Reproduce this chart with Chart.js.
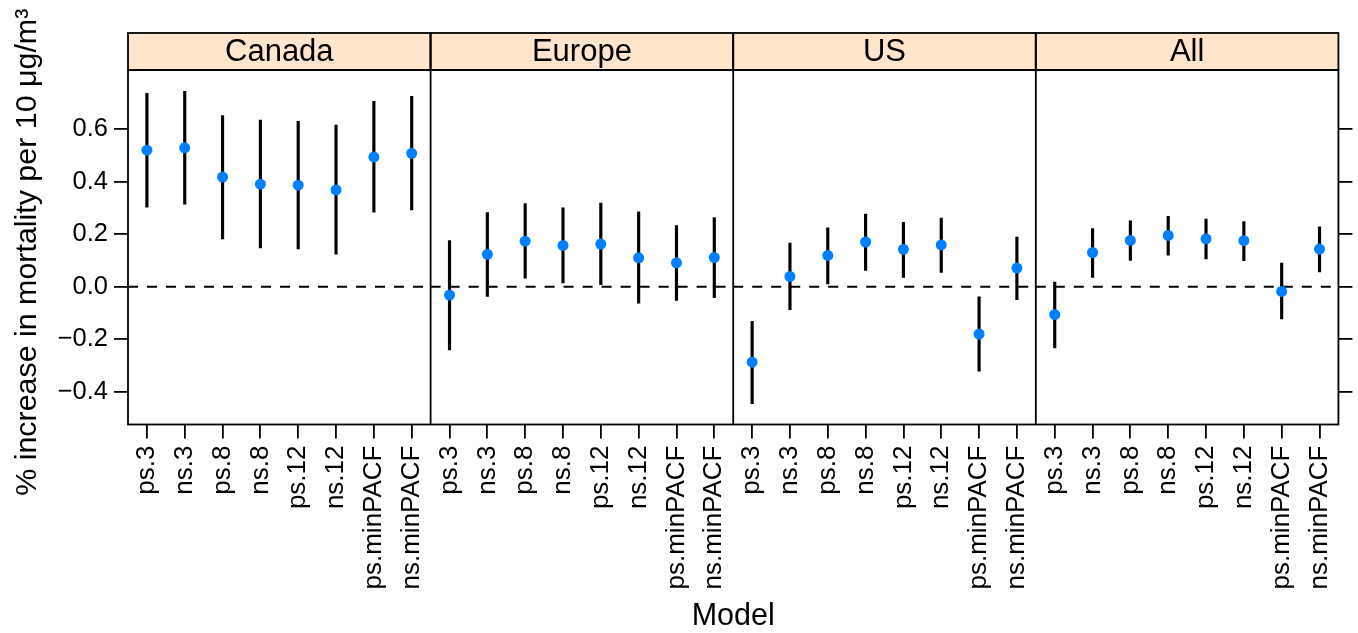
<!DOCTYPE html>
<html>
<head>
<meta charset="utf-8">
<script src="https://cdn.jsdelivr.net/npm/chart.js@4"></script>
<style>
  html, body { margin: 0; padding: 0; background: #fff; }
  canvas { display: block; }
</style>
</head>
<body>
<canvas id="effectChart" width="1358" height="633"></canvas>
<script>
const regions = ["Canada", "Europe", "US", "All"];
const models = ["ps.3", "ns.3", "ps.8", "ns.8", "ps.12", "ns.12", "ps.minPACF", "ns.minPACF"];
const yTicks = [-0.4, -0.2, 0, 0.2, 0.4, 0.6];

// estimate, lower and upper limits per region (one value per model)
const canadaEst = [0.519, 0.528, 0.417, 0.390, 0.386, 0.368, 0.493, 0.507];
const canadaLo  = [0.302, 0.314, 0.182, 0.147, 0.144, 0.124, 0.283, 0.292];
const canadaHi  = [0.735, 0.743, 0.651, 0.634, 0.629, 0.615, 0.705, 0.724];

const europeEst = [-0.032, 0.123, 0.173, 0.157, 0.162, 0.110, 0.091, 0.111];
const europeLo  = [-0.240, -0.037, 0.032, 0.014, 0.008, -0.063, -0.052, -0.042];
const europeHi  = [0.175, 0.282, 0.316, 0.300, 0.318, 0.285, 0.232, 0.263];

const usEst = [-0.287, 0.039, 0.119, 0.170, 0.142, 0.159, -0.180, 0.071];
const usLo  = [-0.445, -0.087, 0.011, 0.062, 0.035, 0.054, -0.321, -0.049];
const usHi  = [-0.132, 0.166, 0.224, 0.276, 0.245, 0.261, -0.039, 0.189];

const allEst = [-0.106, 0.130, 0.176, 0.195, 0.182, 0.175, -0.018, 0.143];
const allLo  = [-0.233, 0.035, 0.100, 0.120, 0.106, 0.099, -0.123, 0.056];
const allHi  = [0.018, 0.221, 0.250, 0.268, 0.257, 0.248, 0.090, 0.228];

const yMin = -0.524, yMax = 0.824;

const labels = regions.flatMap(() => models);
const estimates = [...canadaEst, ...europeEst, ...usEst, ...allEst];
const lows = [...canadaLo, ...europeLo, ...usLo, ...allLo];
const highs = [...canadaHi, ...europeHi, ...usHi, ...allHi];
const intervals = lows.map((lo, i) => [lo, highs[i]]);

const FONT = "'Liberation Sans', Arial, Helvetica, sans-serif";
const STRIP_H = 37;

function fmt(v) {
    return v.toFixed(1).replace('-', '\u2212');
}

function panelEdges(chart) {
    const { chartArea: a, scales: { x } } = chart;
    const edges = [a.left];
    for (let p = 1; p < regions.length; p++) {
        const i = p * models.length;
        edges.push((x.getPixelForValue(i - 1) + x.getPixelForValue(i)) / 2);
    }
    edges.push(a.right);
    return edges;
}

// zero reference line, strips, panel frames and y title (lattice look)
const panelPlugin = {
    id: 'panels',
    beforeDatasetsDraw(chart) {
        const { ctx, scales: { y } } = chart;
        const y0 = y.getPixelForValue(0);
        const edges = panelEdges(chart);
        ctx.save();
        ctx.setLineDash([10, 9]);
        ctx.lineWidth = 2;
        ctx.strokeStyle = '#000';
        for (let p = 0; p < regions.length; p++) {
            ctx.beginPath();
            ctx.moveTo(edges[p], y0);
            ctx.lineTo(edges[p + 1], y0);
            ctx.stroke();
        }
        ctx.restore();
    },
    afterDraw(chart) {
        const { ctx, chartArea: a } = chart;
        const edges = panelEdges(chart);
        ctx.save();
        ctx.lineWidth = 1.8;
        ctx.strokeStyle = '#000';
        for (let p = 0; p < regions.length; p++) {
            const l = edges[p], r = edges[p + 1];
            ctx.fillStyle = '#ffe5cc';
            ctx.fillRect(l, a.top - STRIP_H, r - l, STRIP_H);
            ctx.strokeRect(l, a.top - STRIP_H, r - l, STRIP_H);
            ctx.fillStyle = '#000';
            ctx.font = '31px ' + FONT;
            ctx.textAlign = 'center';
            ctx.textBaseline = 'middle';
            ctx.fillText(regions[p], (l + r) / 2, a.top - STRIP_H / 2 + 1);
        }
        ctx.strokeRect(a.left, a.top, a.right - a.left, a.bottom - a.top);
        for (let p = 1; p < regions.length; p++) {
            ctx.beginPath();
            ctx.moveTo(edges[p], a.top - STRIP_H);
            ctx.lineTo(edges[p], a.bottom);
            ctx.stroke();
        }
        ctx.translate(28, (a.top + a.bottom) / 2 + 5);
        ctx.rotate(-Math.PI / 2);
        ctx.fillStyle = '#000';
        ctx.font = '30.4px ' + FONT;
        ctx.textAlign = 'center';
        ctx.textBaseline = 'middle';
        ctx.fillText('% increase in mortality per 10 \u03bcg/m\u00b3', 0, 0);
        ctx.restore();
    }
};

const tickGrid = {
    drawOnChartArea: false,
    drawTicks: true,
    tickLength: 14,
    color: '#000',
    lineWidth: 1.8
};

const ctx = document.getElementById('effectChart').getContext('2d');

const effectChart = new Chart(ctx, {
    type: 'bar',
    data: {
        labels: labels,
        datasets: [
            {
                type: 'line',
                label: 'estimate',
                data: estimates,
                showLine: false,
                pointRadius: 5.5,
                pointHoverRadius: 5.5,
                pointBackgroundColor: '#0080ff',
                pointBorderWidth: 0,
                borderColor: '#0080ff',
                order: 1
            },
            {
                type: 'bar',
                label: 'interval',
                data: intervals,
                backgroundColor: '#000',
                barThickness: 2.5,
                order: 2
            }
        ]
    },
    options: {
        responsive: false,
        animation: false,
        devicePixelRatio: 1,
        layout: { padding: { top: 70, left: 0, right: 0, bottom: 0 } },
        plugins: {
            legend: { display: false },
            tooltip: { enabled: false }
        },
        scales: {
            x: {
                offset: true,
                grid: Object.assign({ offset: false }, tickGrid),
                border: { display: false },
                ticks: {
                    autoSkip: false,
                    minRotation: 90,
                    maxRotation: 90,
                    padding: 7,
                    color: '#000',
                    font: { family: FONT, size: 26 }
                },
                title: {
                    display: true,
                    text: 'Model',
                    color: '#000',
                    font: { family: FONT, size: 30.5, lineHeight: 1 },
                    padding: { top: 0, bottom: 1 }
                },
                afterFit(scale) { scale.height = 208.5; }
            },
            y: {
                position: 'left',
                min: yMin,
                max: yMax,
                grid: tickGrid,
                border: { display: false },
                ticks: {
                    padding: 6,
                    color: '#000',
                    font: { family: FONT, size: 25.5 },
                    callback: (v) => fmt(v)
                },
                afterBuildTicks(scale) { scale.ticks = yTicks.map(v => ({ value: v })); },
                afterFit(scale) { scale.width = 128; }
            },
            yRight: {
                position: 'right',
                min: yMin,
                max: yMax,
                grid: tickGrid,
                border: { display: false },
                ticks: { display: false },
                afterBuildTicks(scale) { scale.ticks = yTicks.map(v => ({ value: v })); },
                afterFit(scale) { scale.width = 19; }
            }
        }
    },
    plugins: [panelPlugin]
});
</script>
</body>
</html>
